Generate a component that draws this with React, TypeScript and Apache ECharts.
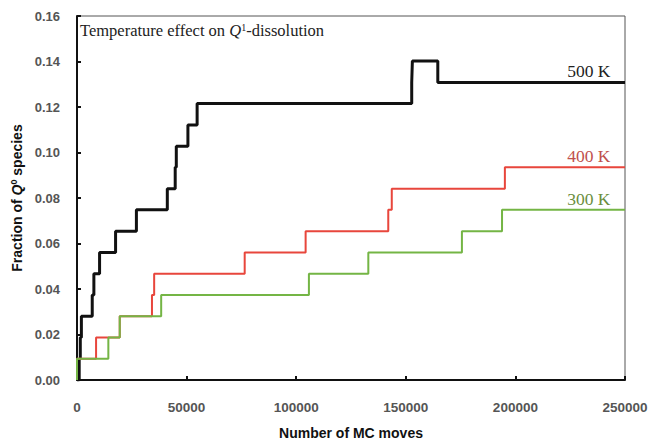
import React, { useEffect, useRef } from "react";
import * as echarts from "echarts";

// Steps: [MC moves at which the fraction changes, new fraction]
const series500K: [number, number][] = [
  [0, 0], [1000, 0.0093], [1500, 0.0187], [2000, 0.028], [6950, 0.0374], [7700, 0.0467],
  [10300, 0.056], [17600, 0.0654], [27100, 0.0748], [41200, 0.0841], [44800, 0.0935],
  [45300, 0.1028], [50600, 0.1121], [54800, 0.1215], [152700, 0.1308], [153000, 0.1402],
  [164600, 0.1308], [250000, 0.1308],
];
const series400K: [number, number][] = [
  [0, 0], [0, 0.0093], [8700, 0.0187], [19500, 0.028], [34200, 0.0374], [35200, 0.0467],
  [76500, 0.056], [104300, 0.0654], [142000, 0.0748], [143600, 0.0841], [195200, 0.0935],
  [250000, 0.0935],
];
const series300K: [number, number][] = [
  [0, 0], [0, 0.0093], [14300, 0.0187], [19500, 0.028], [38400, 0.0374], [105800, 0.0467],
  [132900, 0.056], [175600, 0.0654], [193900, 0.0748], [250000, 0.0748],
];
const seriesNames = ["500 K", "400 K", "300 K"];
const labelAt = 233500;
const xTicks = { min: 0, max: 250000, interval: 50000 };
const yTicks = { min: 0, max: 0.16, interval: 0.02 };

export default function App() {
  const ref = useRef<HTMLDivElement>(null);
  useEffect(() => {
    if (!ref.current) return;
    const chart = echarts.init(ref.current, undefined, { renderer: "svg" });
    const mk = (name: string, data: [number, number][], color: string, textColor: string, width: number) => ({
      name,
      type: "line",
      step: "end",
      data,
      symbol: "none",
      lineStyle: { color, width },
      z: name === "300 K" ? 4 : 3,
      markPoint: {
        symbol: "circle",
        symbolSize: 0,
        data: [{ coord: [labelAt, data[data.length - 1][1]] }],
        label: {
          show: true,
          position: "top",
          distance: 2,
          formatter: name,
          color: textColor,
          fontFamily: "Liberation Serif",
          fontSize: 17.5,
        },
      },
    });
    chart.setOption({
      animation: false,
      backgroundColor: "#ffffff",
      grid: { left: 77, right: 26, top: 16, bottom: 60, show: true, borderColor: "#555", borderWidth: 1 },
      title: {
        text: "Temperature effect on {i|Q}{s|1}-dissolution",
        left: 75,
        top: 17,
        textStyle: {
          fontFamily: "Liberation Serif",
          fontWeight: "normal",
          fontSize: 16.5,
          color: "#222",
          rich: {
            i: { fontFamily: "Liberation Serif", fontStyle: "italic", fontSize: 16.5, color: "#222" },
            s: { fontFamily: "Liberation Serif", fontSize: 10, color: "#222", verticalAlign: "top", padding: [0, 0, 7, 0] },
          },
        },
      },
      xAxis: {
        type: "value",
        ...xTicks,
        name: "Number of MC moves",
        nameLocation: "middle",
        nameGap: 46,
        nameTextStyle: { fontFamily: "Liberation Sans", fontWeight: "bold", fontSize: 14, color: "#111" },
        axisLine: { show: true, onZero: false, lineStyle: { color: "#111", width: 2 } },
        axisTick: { show: true, inside: true, length: 4, lineStyle: { color: "#111", width: 2 } },
        axisLabel: {
          margin: 20,
          fontFamily: "Liberation Sans",
          fontWeight: "bold",
          fontSize: 13.5,
          color: "#555",
          formatter: (v: number) => String(v),
        },
        splitLine: { show: false },
      },
      yAxis: {
        type: "value",
        ...yTicks,
        name: "Fraction of {i|Q}{s|0} species",
        nameLocation: "middle",
        nameGap: 52,
        nameTextStyle: {
          fontFamily: "Liberation Sans",
          fontWeight: "bold",
          fontSize: 14,
          color: "#111",
          rich: {
            i: { fontFamily: "Liberation Sans", fontWeight: "bold", fontStyle: "italic", fontSize: 14, color: "#111" },
            s: { fontFamily: "Liberation Sans", fontWeight: "bold", fontSize: 9, color: "#111", verticalAlign: "top", padding: [0, 0, 6, 0] },
          },
        },
        axisLine: { show: true, lineStyle: { color: "#111", width: 2 } },
        axisTick: { show: true, inside: true, length: 4, lineStyle: { color: "#111", width: 2 } },
        axisLabel: {
          margin: 17,
          fontFamily: "Liberation Sans",
          fontWeight: "bold",
          fontSize: 13,
          color: "#555",
          formatter: (v: number) => v.toFixed(2),
        },
        splitLine: { show: false },
      },
      series: [
        mk(seriesNames[0], series500K, "#111111", "#222222", 3),
        mk(seriesNames[1], series400K, "#e8463c", "#c0504d", 2),
        mk(seriesNames[2], series300K, "#74b545", "#6b8e3d", 2),
      ],
    });
    return () => chart.dispose();
  }, []);
  return <div ref={ref} style={{ position: "fixed", left: 0, top: 0, width: 651, height: 445, background: "#fff" }} />;
}
